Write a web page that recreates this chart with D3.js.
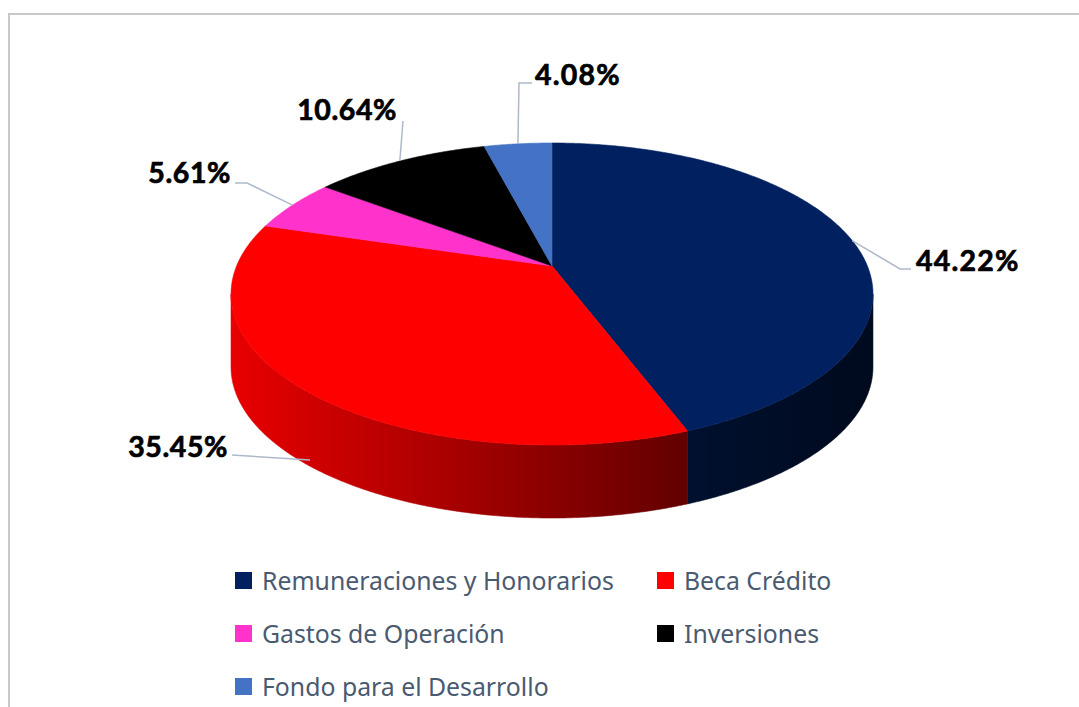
<!DOCTYPE html>
<html><head><meta charset="utf-8">
<script src="https://cdn.jsdelivr.net/npm/d3@7"></script>
<style>html,body{margin:0;padding:0;background:#fff;}svg{display:block;}</style>
</head><body>
<svg id="chart" width="1079" height="707"></svg>
<script>
// ---- data ----
const categories = ["Remuneraciones y Honorarios","Beca Crédito","Gastos de Operación","Inversiones","Fondo para el Desarrollo"];
const values = [44.22, 35.45, 5.61, 10.64, 4.08];
const labels = ["44.22%","35.45%","5.61%","10.64%","4.08%"];
const colors = ["#002060","#ff0000","#ff33cc","#000000","#4472c4"];

// ---- layout (positions only) ----
const geo = {cx:552, cy:266, r:315.4, s:0.1854, q:-96.5, depth:73};
const labelLayout = [
  {x:916, y:271, anchor:"start", elbow:[900,269], end:[911,269]},
  {x:228, y:457, anchor:"end",   elbow:null, end:[232,455], anchorPt:[310,460]},
  {x:231, y:183, anchor:"end",   elbow:[247,183], end:[235,183]},
  {x:397, y:120, anchor:"end",   elbow:[403,121], end:[403,121]},
  {x:535, y:85,  anchor:"start", elbow:[519,83], end:[532,83]}
];

const svg = d3.select("#chart");
svg.append("rect").attr("x",9).attr("y",14).attr("width",1200).attr("height",900)
  .attr("fill","#fff").attr("stroke","#c8c8c8").attr("stroke-width",2);

const pie = d3.pie().sort(null).value(d=>d)(values);

function proj(theta, dy){
  const X = Math.sin(theta), Z = Math.cos(theta);
  const w = 1 + geo.s*Z;
  return [geo.cx + geo.r*X/w, (geo.cy + geo.q*Z)/w + (dy||0)];
}
function arcPts(a0,a1,dy){
  const n = Math.max(2, Math.ceil((a1-a0)/(Math.PI/360)));
  return d3.range(n+1).map(i=>proj(a0+(a1-a0)*i/n, dy));
}
const visA = Math.acos(-geo.s), visB = 2*Math.PI - Math.acos(-geo.s);

const defs = svg.append("defs");
const wallGrads = [
  ["#00102e","#000a1e"],
  ["#e80000","#620000"],
  ["#cc22aa","#99007a"],
  ["#000000","#000000"],
  ["#335aa0","#25457e"]
];
pie.forEach((p,i)=>{
  const a0 = Math.max(p.startAngle, visA), a1 = Math.min(p.endAngle, visB);
  if (a1 <= a0) return;
  const top = arcPts(a0,a1,0), bot = arcPts(a0,a1,geo.depth).reverse();
  const xs = top.map(d=>d[0]);
  const g = defs.append("linearGradient").attr("id","wg"+i).attr("gradientUnits","userSpaceOnUse")
    .attr("x1",d3.min(xs)).attr("x2",d3.max(xs)).attr("y1",0).attr("y2",0);
  g.append("stop").attr("offset",0).attr("stop-color",wallGrads[i][0]);
  g.append("stop").attr("offset",1).attr("stop-color",wallGrads[i][1]);
  svg.append("path").attr("d", d3.line()(top.concat(bot))+"Z").attr("fill","url(#wg"+i+")")
    .attr("stroke","url(#wg"+i+")").attr("stroke-width",0.6);
});
pie.forEach((p,i)=>{
  const pts = [[geo.cx, geo.cy]].concat(arcPts(p.startAngle,p.endAngle,0));
  svg.append("path").attr("d", d3.line()(pts)+"Z").attr("fill",colors[i])
    .attr("stroke",colors[i]).attr("stroke-width",0.6).attr("stroke-linejoin","round");
});

pie.forEach((p,i)=>{
  const L = labelLayout[i];
  const mid = (p.startAngle+p.endAngle)/2;
  const a = L.anchorPt || proj(mid, 0);
  const pts = [L.end];
  if (L.elbow) pts.push(L.elbow);
  pts.push(a);
  svg.append("path").attr("d", d3.line()(pts)).attr("fill","none")
    .attr("stroke","#adb9ca").attr("stroke-width",1.5);
  svg.append("text").attr("x",L.x).attr("y",L.y).attr("text-anchor",L.anchor)
    .attr("font-family","Lato, 'Open Sans', sans-serif").attr("font-weight",700)
    .attr("font-size",28.5).attr("letter-spacing",L.anchor==="end"?0.6:1.2)
    .attr("stroke","#000").attr("stroke-width",0.7)
    .attr("fill","#000").text(labels[i]);
});

const legPos = [[235,581],[657,581],[235,634],[657,634],[235,687]];
categories.forEach((c,i)=>{
  const [x,y] = legPos[i];
  svg.append("rect").attr("x",x).attr("y",y-9).attr("width",17).attr("height",17).attr("fill",colors[i]);
  svg.append("text").attr("x",x+27).attr("y",y+9)
    .attr("font-family","'Noto Sans', sans-serif").attr("font-size",24.8)
    .attr("fill","#4a5a70").text(c);
});
</script>
</body></html>
